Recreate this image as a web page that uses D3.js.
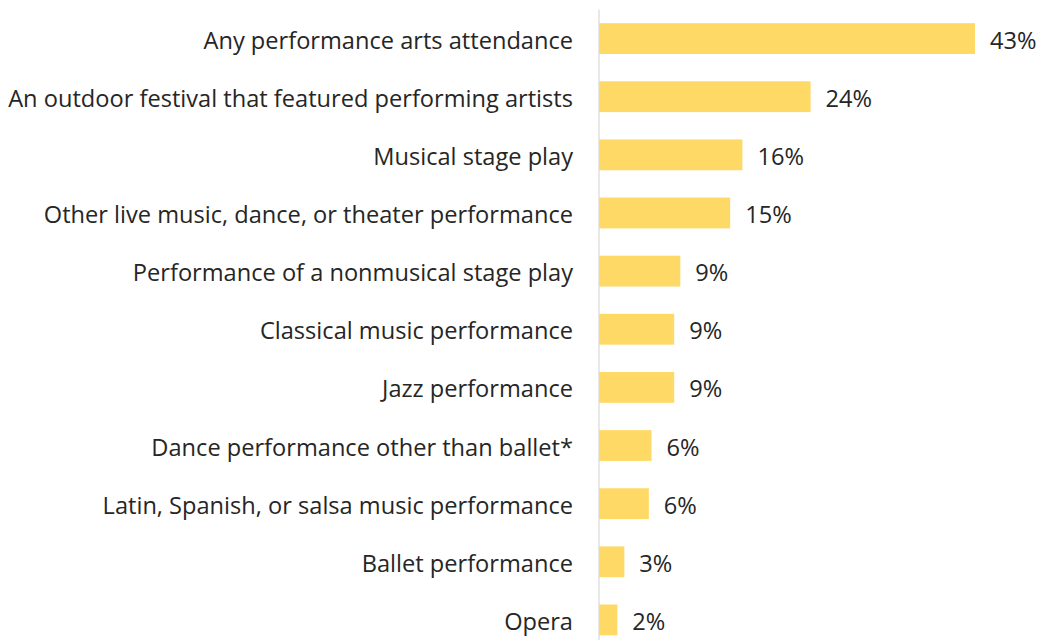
<!DOCTYPE html>
<html><head><meta charset="utf-8">
<script src="https://cdn.jsdelivr.net/npm/d3@7"></script>
<style>body{margin:0;background:#fff;} svg{display:block;}</style>
</head><body>
<svg id="c" width="1038" height="640"></svg>
<script>
const categories = [
  "Any performance arts attendance",
  "An outdoor festival that featured performing artists",
  "Musical stage play",
  "Other live music, dance, or theater performance",
  "Performance of a nonmusical stage play",
  "Classical music performance",
  "Jazz performance",
  "Dance performance other than ballet*",
  "Latin, Spanish, or salsa music performance",
  "Ballet performance",
  "Opera"
];
const values = [43, 24.2, 16.4, 15.0, 9.3, 8.6, 8.6, 6.0, 5.7, 2.9, 2.1];
const valueLabels = ["43%","24%","16%","15%","9%","9%","9%","6%","6%","3%","2%"];

const svg = d3.select("#c");
const x0 = 599;
const x = d3.scaleLinear().domain([0, 43]).range([x0, 975]);
const y = d3.scaleBand().domain(categories).range([9.5, 649]).paddingInner(0.47).paddingOuter(0.235);

const font = "'Open Sans', 'Noto Sans', sans-serif";

svg.selectAll("rect.bar").data(categories).enter().append("rect")
  .attr("x", x(0)).attr("y", d => y(d))
  .attr("width", (d,i) => x(values[i]) - x(0))
  .attr("height", y.bandwidth())
  .attr("fill", "#FFD966");

svg.append("line").attr("x1", x0).attr("x2", x0).attr("y1", 9.5).attr("y2", 640)
  .attr("stroke", "#D9D9D9").attr("stroke-width", 1.2);

const lab = svg.selectAll("text.cat").data(categories).enter().append("text")
  .attr("class","cat")
  .attr("x", 573).attr("y", d => y(d) + y.bandwidth()/2 + 1)
  .attr("text-anchor", "end").attr("dominant-baseline", "central")
  .attr("font-family", font).attr("font-size", 20).attr("fill", "#262626")
  .text(d => d);
// fit font size so longest label spans target width
const longest = lab.filter((d,i) => i === 1).node().getComputedTextLength();
const fs = 20 * 565 / longest;
lab.attr("font-size", fs);

svg.selectAll("text.val").data(categories).enter().append("text")
  .attr("x", (d,i) => x(values[i]) + 15)
  .attr("y", d => y(d) + y.bandwidth()/2 + 1)
  .attr("dominant-baseline", "central")
  .attr("font-family", font).attr("font-size", fs).attr("fill", "#262626")
  .text((d,i) => valueLabels[i]);
</script>
</body></html>
